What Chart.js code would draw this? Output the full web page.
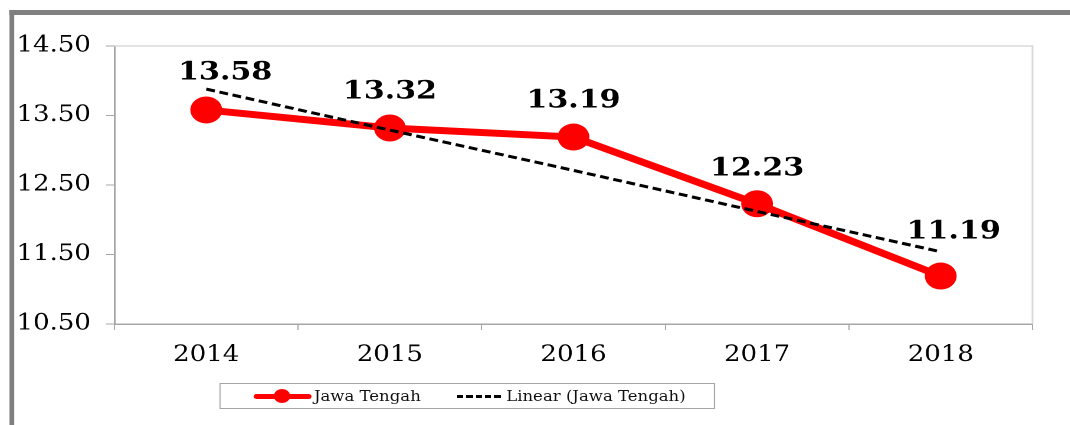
<!DOCTYPE html>
<html>
<head>
<meta charset="utf-8">
<script src="https://cdn.jsdelivr.net/npm/chart.js@4.4.0/dist/chart.umd.min.js"></script>
<style>
    html, body { margin: 0; overflow: hidden; background: #fff; width: 1070px; height: 425px; }
    #wrap { position: absolute; left: 0; top: 0; width: 907px; height: 425px; transform: scaleX(1.18); transform-origin: 0 0; overflow: hidden; }
    .frameTop { position: absolute; left: 8px; top: 10px; width: 899px; height: 5px; background: #808080; }
    .frameLeft { position: absolute; left: 8px; top: 10px; width: 4px; height: 415px; background: #808080; }
    #chartBox { position: absolute; left: 0; top: 0; width: 907px; height: 370px; }
    .legend { position: absolute; left: 186px; top: 383px; width: 420px; height: 26px; border: 1px solid #a6a6a6; box-sizing: border-box; font-family: 'DejaVu Serif', serif; font-size: 14px; color: #111; }
    .legend .redLine { position: absolute; left: 28px; top: 10px; width: 49px; height: 5px; background: #ff0000; border-radius: 3px; }
    .legend .redDot { position: absolute; left: 45px; top: 5px; width: 14px; height: 14px; background: #ff0000; border-radius: 50%; }
    .legend .dash { position: absolute; left: 200px; top: 11px; width: 40px; height: 3px; background: repeating-linear-gradient(to right, #000 0 5.5px, transparent 5.5px 8px); }
    .legend .txt { position: absolute; top: 3px; line-height: 18px; white-space: nowrap; }
</style>
</head>
<body>
<div id="wrap">
    <div class="frameTop"></div>
    <div class="frameLeft"></div>
    <div id="chartBox"><canvas id="chart"></canvas></div>
    <div class="legend">
        <div class="redLine"></div><div class="redDot"></div>
        <div class="txt" style="left:79px">Jawa Tengah</div>
        <div class="dash"></div>
        <div class="txt" style="left:242px">Linear (Jawa Tengah)</div>
    </div>
</div>
<script>
// データ
const years = ['2014', '2015', '2016', '2017', '2018'];
const jawaTengah = [13.58, 13.32, 13.19, 12.23, 11.19];
// 線形トレンド
const trendJawaTengah = [13.88, 13.29, 12.71, 12.12, 11.54];
const yTicks = [10.5, 11.5, 12.5, 13.5, 14.5];

// 値ラベルのずらし量
const labelShiftX = [16, 0, 0, 0, 11];
const labelShiftY = [-37, -36, -36, -35, -44];

// プロット枠（上・右）
const plotBorder = {
    id: 'plotBorder',
    beforeDatasetsDraw(chart) {
        const { ctx, chartArea: a } = chart;
        ctx.save();
        ctx.lineWidth = 1.5;
        ctx.strokeStyle = '#d9d9d9';
        ctx.beginPath();
        ctx.moveTo(a.left, a.top);
        ctx.lineTo(a.right, a.top);
        ctx.lineTo(a.right, a.bottom);
        ctx.stroke();
        ctx.restore();
    }
};

// 値ラベル
const valueLabels = {
    id: 'valueLabels',
    afterDatasetsDraw(chart) {
        const { ctx } = chart;
        const meta = chart.getDatasetMeta(1);
        ctx.save();
        ctx.font = 'bold 25.5px "DejaVu Serif"';
        ctx.fillStyle = '#000';
        ctx.textAlign = 'center';
        ctx.textBaseline = 'middle';
        meta.data.forEach((pt, i) => {
            ctx.fillText(jawaTengah[i].toFixed(2), pt.x + labelShiftX[i], pt.y + labelShiftY[i]);
        });
        ctx.restore();
    }
};

new Chart(document.getElementById('chart').getContext('2d'), {
    type: 'line',
    data: {
        labels: years,
        datasets: [{
            label: 'Linear (Jawa Tengah)',
            data: trendJawaTengah,
            borderColor: '#000',
            borderWidth: 3,
            borderDash: [7.5, 4],
            pointRadius: 0,
            fill: false,
            order: 0
        }, {
            label: 'Jawa Tengah',
            data: jawaTengah,
            borderColor: '#ff0000',
            backgroundColor: '#ff0000',
            borderWidth: 7,
            pointRadius: 13.5,
            pointHoverRadius: 13.5,
            pointBorderWidth: 0,
            pointBackgroundColor: '#ff0000',
            fill: false,
            order: 1
        }]
    },
    options: {
        responsive: true,
        maintainAspectRatio: false,
        animation: false,
        devicePixelRatio: 2,
        layout: { padding: { left: 0, right: 32, top: 46, bottom: 0 } },
        scales: {
            x: {
                offset: true,
                grid: { offset: true, drawOnChartArea: false, tickLength: 6, color: '#a6a6a6' },
                border: { color: '#a6a6a6', width: 1.5 },
                ticks: { color: '#000', padding: 12, font: { family: 'DejaVu Serif', size: 22 } },
                afterFit(scale) { scale.height = 46; }
            },
            y: {
                min: 10.5,
                max: 14.5,
                grid: { drawOnChartArea: false, tickLength: 7, color: '#a6a6a6' },
                border: { color: '#a6a6a6', width: 1.5 },
                ticks: {
                    color: '#000',
                    padding: 13,
                    font: { family: 'DejaVu Serif', size: 22 },
                    callback: v => Number(v).toFixed(2)
                },
                afterBuildTicks(scale) { scale.ticks = yTicks.map(v => ({ value: v })); },
                afterFit(scale) { scale.width = 97; }
            }
        },
        plugins: {
            legend: { display: false },
            tooltip: { enabled: false }
        }
    },
    plugins: [plotBorder, valueLabels]
});
</script>
</body>
</html>
